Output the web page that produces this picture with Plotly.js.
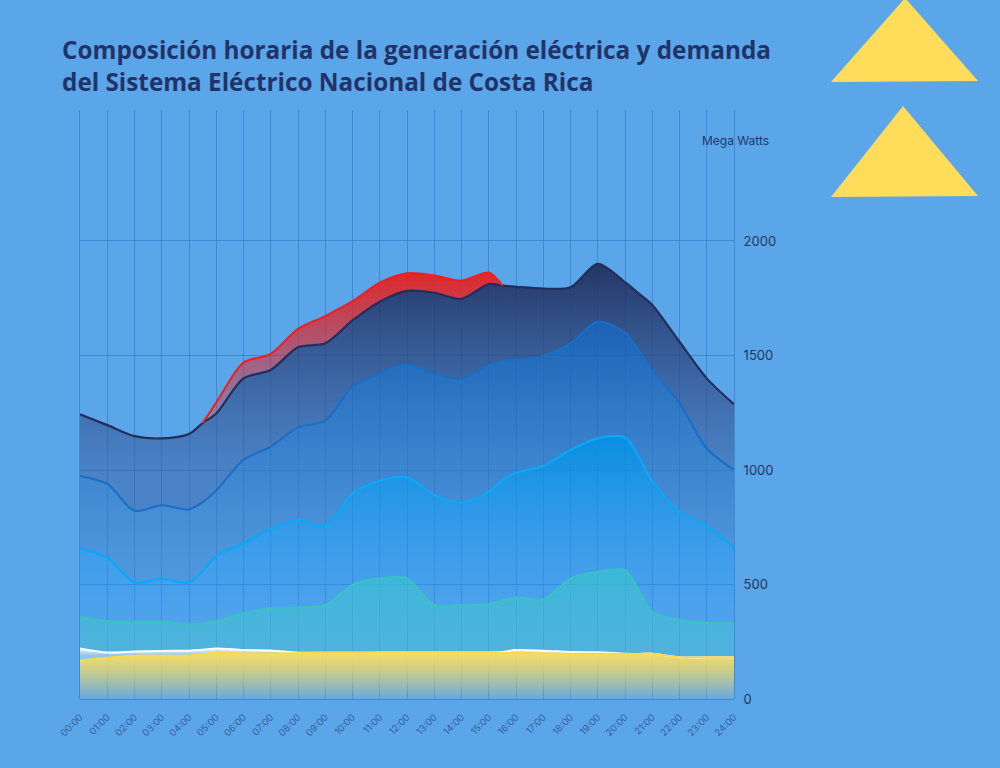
<!DOCTYPE html>
<html>
<head>
<meta charset="utf-8">
<script src="https://cdn.plot.ly/plotly-3.0.1.min.js"></script>
<style>
html,body{margin:0;padding:0;background:#5ba6e8;}
#chart{width:1000px;height:768px;}
</style>
</head>
<body>
<div id="chart"></div>
<script>
// ---- Data (MW) ----
const horas = [0,1,2,3,4,4.5,5,6,7,8,9,10,11,12,13,14,15,15.5,16,17,18,19,20,20.5,21,22,23,24];
const etiquetasHora = ["00:00","01:00","02:00","03:00","04:00","05:00","06:00","07:00","08:00","09:00","10:00","11:00","12:00","13:00","14:00","15:00","16:00","17:00","18:00","19:00","20:00","21:00","22:00","23:00","24:00"];
const posicionesHora = [0,1,2,3,4,5,6,7,8,9,10,11,12,13,14,15,16,17,18,19,20,21,22,23,24];
const ticksMW = [0,500,1000,1500,2000];

// stacked cumulative levels, bottom to top
const capaAmarilla = [167,180,189,189,190,195,202,199,199,200,202,202,202,202,202,202,202,202,202,200,198,198,197,197,198,182,182,182];
const capaBlanca   = [221,203,207,210,211,215,221,214,212,202,202,202,203,203,203,203,203,205,214,211,205,204,198,197,198,182,182,182];
const capaTurquesa = [360,340,338,338,326,330,342,374,396,400,410,498,527,527,410,410,415,430,444,435,527,556,563,476,381,345,333,333];
const capaCeleste  = [658,618,509,524,509,560,624,680,742,782,755,898,953,968,891,857,905,955,988,1017,1087,1138,1143,1058,950,818,755,658];
const capaAzul     = [974,939,822,846,828,860,910,1044,1102,1186,1215,1364,1422,1463,1419,1397,1458,1475,1480,1498,1553,1648,1600,1524,1437,1291,1095,1000];
const capaMarino   = [1243,1196,1148,1138,1157,1205,1247,1400,1437,1536,1553,1653,1735,1782,1774,1747,1812,1805,1800,1792,1798,1900,1820,1771,1721,1560,1400,1287];
const capaRoja     = [null,null,null,null,null,1205,1294,1469,1507,1616,1672,1737,1818,1859,1849,1827,1862,1805,null,null,null,null,null,null,null,null,null,null];

const rojaRelleno = capaRoja.map((v,i) => v === null ? capaMarino[i] : v);

function area(y, fill, grad){
  return {x: horas, y: y, type:'scatter', mode:'lines', fill: fill,
    line:{width:0, shape:'spline', smoothing:0.8},
    fillgradient: Object.assign({type:'vertical'}, grad),
    hoverinfo:'skip', showlegend:false};
}
function linea(y, color, w){
  return {x: horas, y: y, type:'scatter', mode:'lines',
    line:{color: color, width: w, shape:'spline', smoothing:0.8},
    connectgaps:false, hoverinfo:'skip', showlegend:false};
}

const data = [
  area(capaAmarilla, 'tozeroy', {start:0, stop:205, colorscale:[[0,'rgba(240,218,110,0.08)'],[0.6,'rgba(242,218,105,0.75)'],[1,'rgba(246,222,100,1)']]}),
  area(capaBlanca, 'tonexty', {start:190, stop:225, colorscale:[[0,'rgba(255,255,255,0.35)'],[1,'rgba(255,255,255,0.95)']]}),
  area(capaTurquesa, 'tonexty', {start:200, stop:570, colorscale:[[0,'rgba(73,187,215,0.6)'],[1,'rgba(52,187,213,0.85)']]}),
  area(capaCeleste, 'tonexty', {start:330, stop:1150, colorscale:[[0,'rgba(54,155,245,0.3)'],[1,'rgba(3,140,223,0.92)']]}),
  area(capaAzul, 'tonexty', {start:500, stop:1650, colorscale:[[0,'rgba(64,132,207,0.4)'],[1,'rgba(19,90,175,0.9)']]}),
  area(capaMarino, 'tonexty', {start:1000, stop:1900, colorscale:[[0,'rgba(57,95,165,0.5)'],[1,'rgba(32,44,90,0.92)']]}),
  area(rojaRelleno, 'tonexty', {start:1250, stop:1870, colorscale:[[0,'rgba(220,40,50,0.3)'],[1,'rgba(232,32,30,0.95)']]}),
  linea(capaBlanca, '#ffffff', 2),
  linea(capaAmarilla, '#fcd84a', 2),
  linea(capaTurquesa, '#3ac2c2', 2),
  linea(capaCeleste, '#0aa8f6', 2.2),
  linea(capaAzul, '#1a6ec6', 2),
  linea(capaMarino, '#212f5c', 2.2),
  linea(capaRoja, '#f01e1e', 2)
];

const grid = 'rgba(40,110,200,0.55)';
const layout = {
  width:1000, height:768,
  paper_bgcolor:'#5ba6e8', plot_bgcolor:'rgba(0,0,0,0)',
  margin:{l:80, r:266, t:110, b:69},
  title:{
    text:'Composición horaria de la generación eléctrica y demanda<br>del Sistema Eléctrico Nacional de Costa Rica',
    font:{family:'Open Sans', size:24.3, color:'#22336a', weight:700},
    x:0.062, xanchor:'left', xref:'container',
    y:0.923, yanchor:'top', yref:'container'
  },
  xaxis:{
    range:[0,24], tickmode:'array', tickvals:posicionesHora, ticktext:etiquetasHora,
    tickangle:-45, tickfont:{family:'Inter', size:9.5, color:'#34609a'},
    showgrid:true, gridcolor:grid, gridwidth:1, zeroline:false,
    showline:false, ticks:'', ticklabelstandoff:10, fixedrange:true
  },
  yaxis:{
    side:'right', range:[0,2572], tickmode:'array', tickvals:ticksMW,
    tickfont:{family:'Inter', size:13, color:'#22365f'},
    showgrid:true, gridcolor:grid, gridwidth:1,
    zeroline:true, zerolinecolor:grid, zerolinewidth:1,
    showline:true, mirror:true, linecolor:grid, linewidth:1,
    ticks:'', ticklabelstandoff:6, fixedrange:true
  },
  annotations:[{
    text:'Mega Watts', xref:'paper', yref:'paper', x:1.0566, y:0.949,
    xanchor:'right', yanchor:'middle', showarrow:false,
    font:{family:'Inter', size:12, color:'#1f3a6a'}
  }],
  shapes:[
    {type:'path', xref:'paper', yref:'paper', path:'M 1.2615 1.1902 L 1.1483 1.0475 L 1.3731 1.0492 Z', fillcolor:'#ffdc5a', line:{width:0}, layer:'above'},
    {type:'path', xref:'paper', yref:'paper', path:'M 1.2584 1.0068 L 1.1483 0.8523 L 1.3731 0.8540 Z', fillcolor:'#ffdc5a', line:{width:0}, layer:'above'}
  ]
};

Plotly.newPlot('chart', data, layout, {displayModeBar:false, staticPlot:true});
</script>
</body>
</html>
